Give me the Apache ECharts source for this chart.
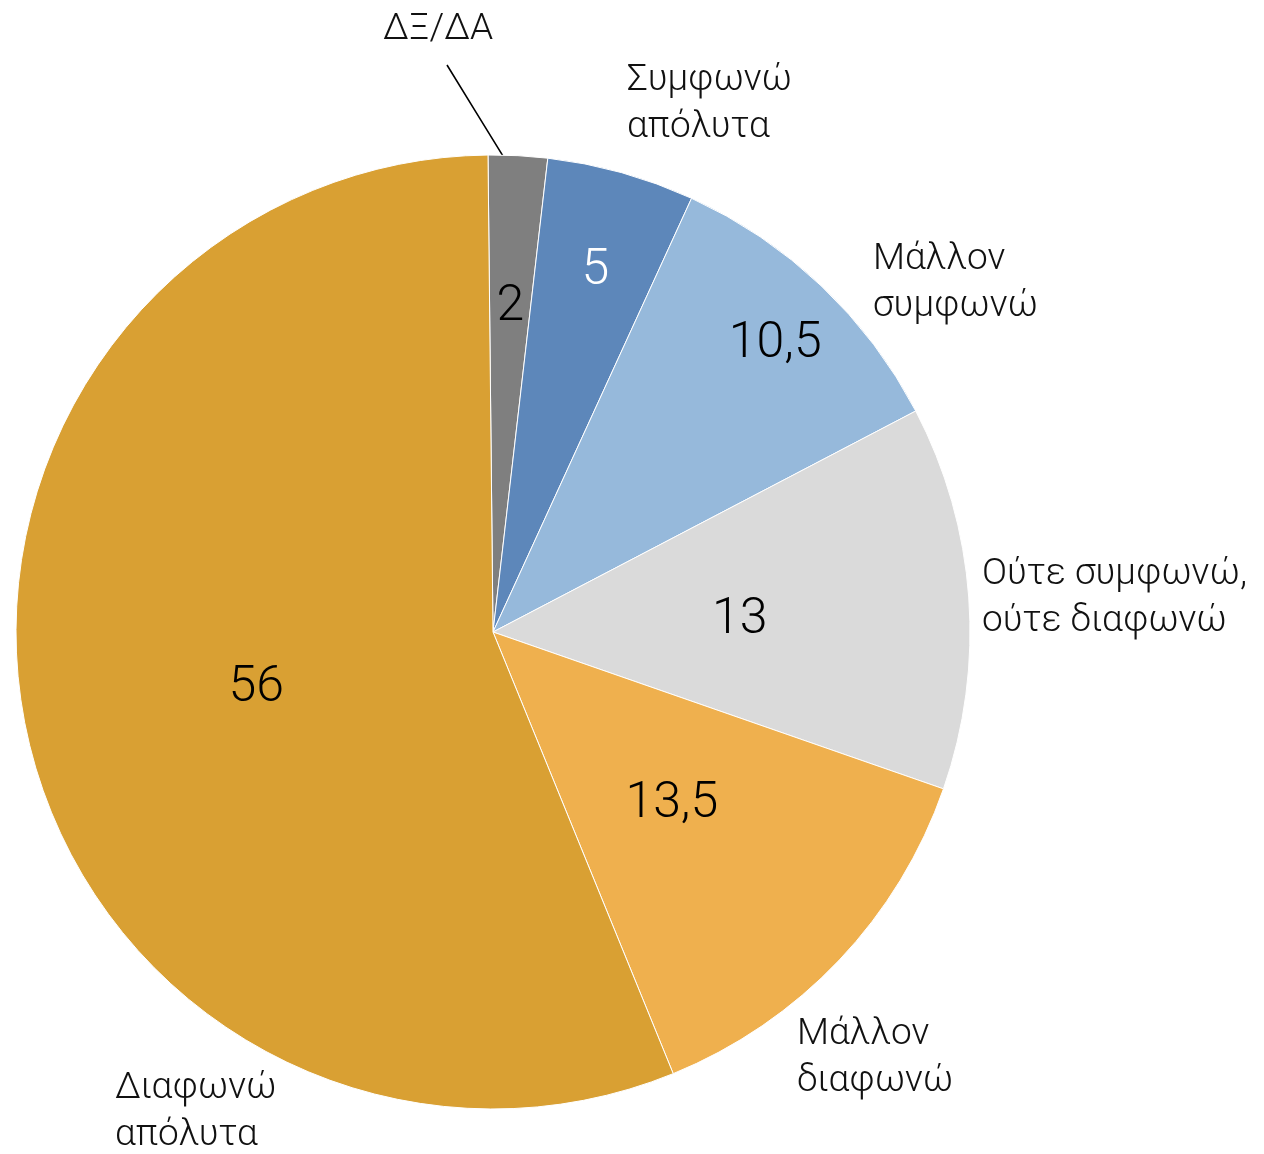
<!DOCTYPE html>
<html>
<head>
<meta charset="utf-8">
<script src="https://cdn.jsdelivr.net/npm/echarts@6/dist/echarts.min.js"></script>
<style>
  html, body { margin: 0; padding: 0; background: #fff; }
  #myChart { width: 1264px; height: 1154px; }
</style>
</head>
<body>
<div id="myChart"></div>
<script>
// data
var categories = ['ΔΞ/ΔΑ', 'Συμφωνώ απόλυτα', 'Μάλλον συμφωνώ', 'Ούτε συμφωνώ, ούτε διαφωνώ', 'Μάλλον διαφωνώ', 'Διαφωνώ απόλυτα'];
var values = [2, 5, 10.5, 13, 13.5, 56];

// styles
var colors = ['#7f7f7f', '#5d87ba', '#96b9db', '#dadada', '#efb04e', '#d9a033'];
var valueColors = ['#000', '#fff', '#000', '#000', '#000', '#000'];
// inner radius used to push each value label out along its slice
var valueInner = [185, 279, 337, 12, 10, 0];
// small downward nudge (excel centres the glyphs, not the text box)
var valueNudge = [9, 6, 10, 7, 3, 9];
// where the category names sit (left edge / middle), like the original
var nameAnchor = [
  {x: 438, y: 30, align: 'center'},
  {x: 627, y: 104, align: 'left'},
  {x: 873, y: 283, align: 'left'},
  {x: 982, y: 598, align: 'left'},
  {x: 797, y: 1058, align: 'left'},
  {x: 115, y: 1112, align: 'left'}
];

var FONT = 'Roboto, "Liberation Sans", sans-serif';
var CENTER = [493, 632];
var R = 477;
var START = 90.6;

function fmt(v) {
  return String(v).replace('.', ',');
}
function breakName(n) {
  if (n.indexOf(', ') >= 0) return n.replace(', ', ',\n');
  return n.replace(' ', '\n');
}

let myChart = echarts.init(document.getElementById('myChart'));

var series = [{
  name: 'main',
  type: 'pie',
  center: CENTER,
  radius: R,
  startAngle: START,
  clockwise: true,
  avoidLabelOverlap: false,
  itemStyle: {borderColor: '#ffffff', borderWidth: 1},
  label: {
    show: true,
    position: 'outside',
    formatter: function (p) { return breakName(p.name); },
    fontFamily: FONT,
    fontWeight: 300,
    fontSize: 37,
    lineHeight: 47,
    color: '#111'
  },
  labelLine: {show: false},
  labelLayout: function (p) {
    var a = nameAnchor[p.dataIndex];
    var out = {x: a.x, y: a.y, align: a.align, verticalAlign: 'middle'};
    if (p.dataIndex === 0 && p.labelLinePoints) {
      // leader line: from the slice edge up to just under the label
      var s = p.labelLinePoints[0];
      var e = [a.x + 9, a.y + 35];
      out.labelLinePoints = [[s[0] - 14, s[1] + 2], [(s[0] - 14 + e[0]) / 2, (s[1] + 2 + e[1]) / 2], e];
    }
    return out;
  },
  emphasis: {disabled: true},
  data: categories.map(function (c, i) {
    var item = {name: c, value: values[i], itemStyle: {color: colors[i]}};
    if (i === 0) {
      item.labelLine = {show: true, length: 60, length2: 0, lineStyle: {color: '#000', width: 1.6}};
    }
    return item;
  })
}];

// value labels, one transparent ring per slice so the label lands where excel put it
values.forEach(function (v, k) {
  series.push({
    type: 'pie',
    center: CENTER,
    radius: [valueInner[k], R],
    startAngle: START,
    clockwise: true,
    silent: true,
    emphasis: {disabled: true},
    itemStyle: {color: 'transparent', borderWidth: 0},
    label: {show: false},
    labelLine: {show: false},
    labelLayout: {dy: valueNudge[k]},
    data: values.map(function (w, i) {
      var item = {name: categories[i], value: w};
      if (i === k) {
        item.label = {
          show: true,
          position: 'inside',
          formatter: fmt(w),
          fontFamily: FONT,
          fontWeight: 300,
          fontSize: 50,
          color: valueColors[i]
        };
      }
      return item;
    })
  });
});

var option = {
  backgroundColor: '#fff',
  animation: false,
  series: series
};
myChart.setOption(option);
</script>
</body>
</html>
